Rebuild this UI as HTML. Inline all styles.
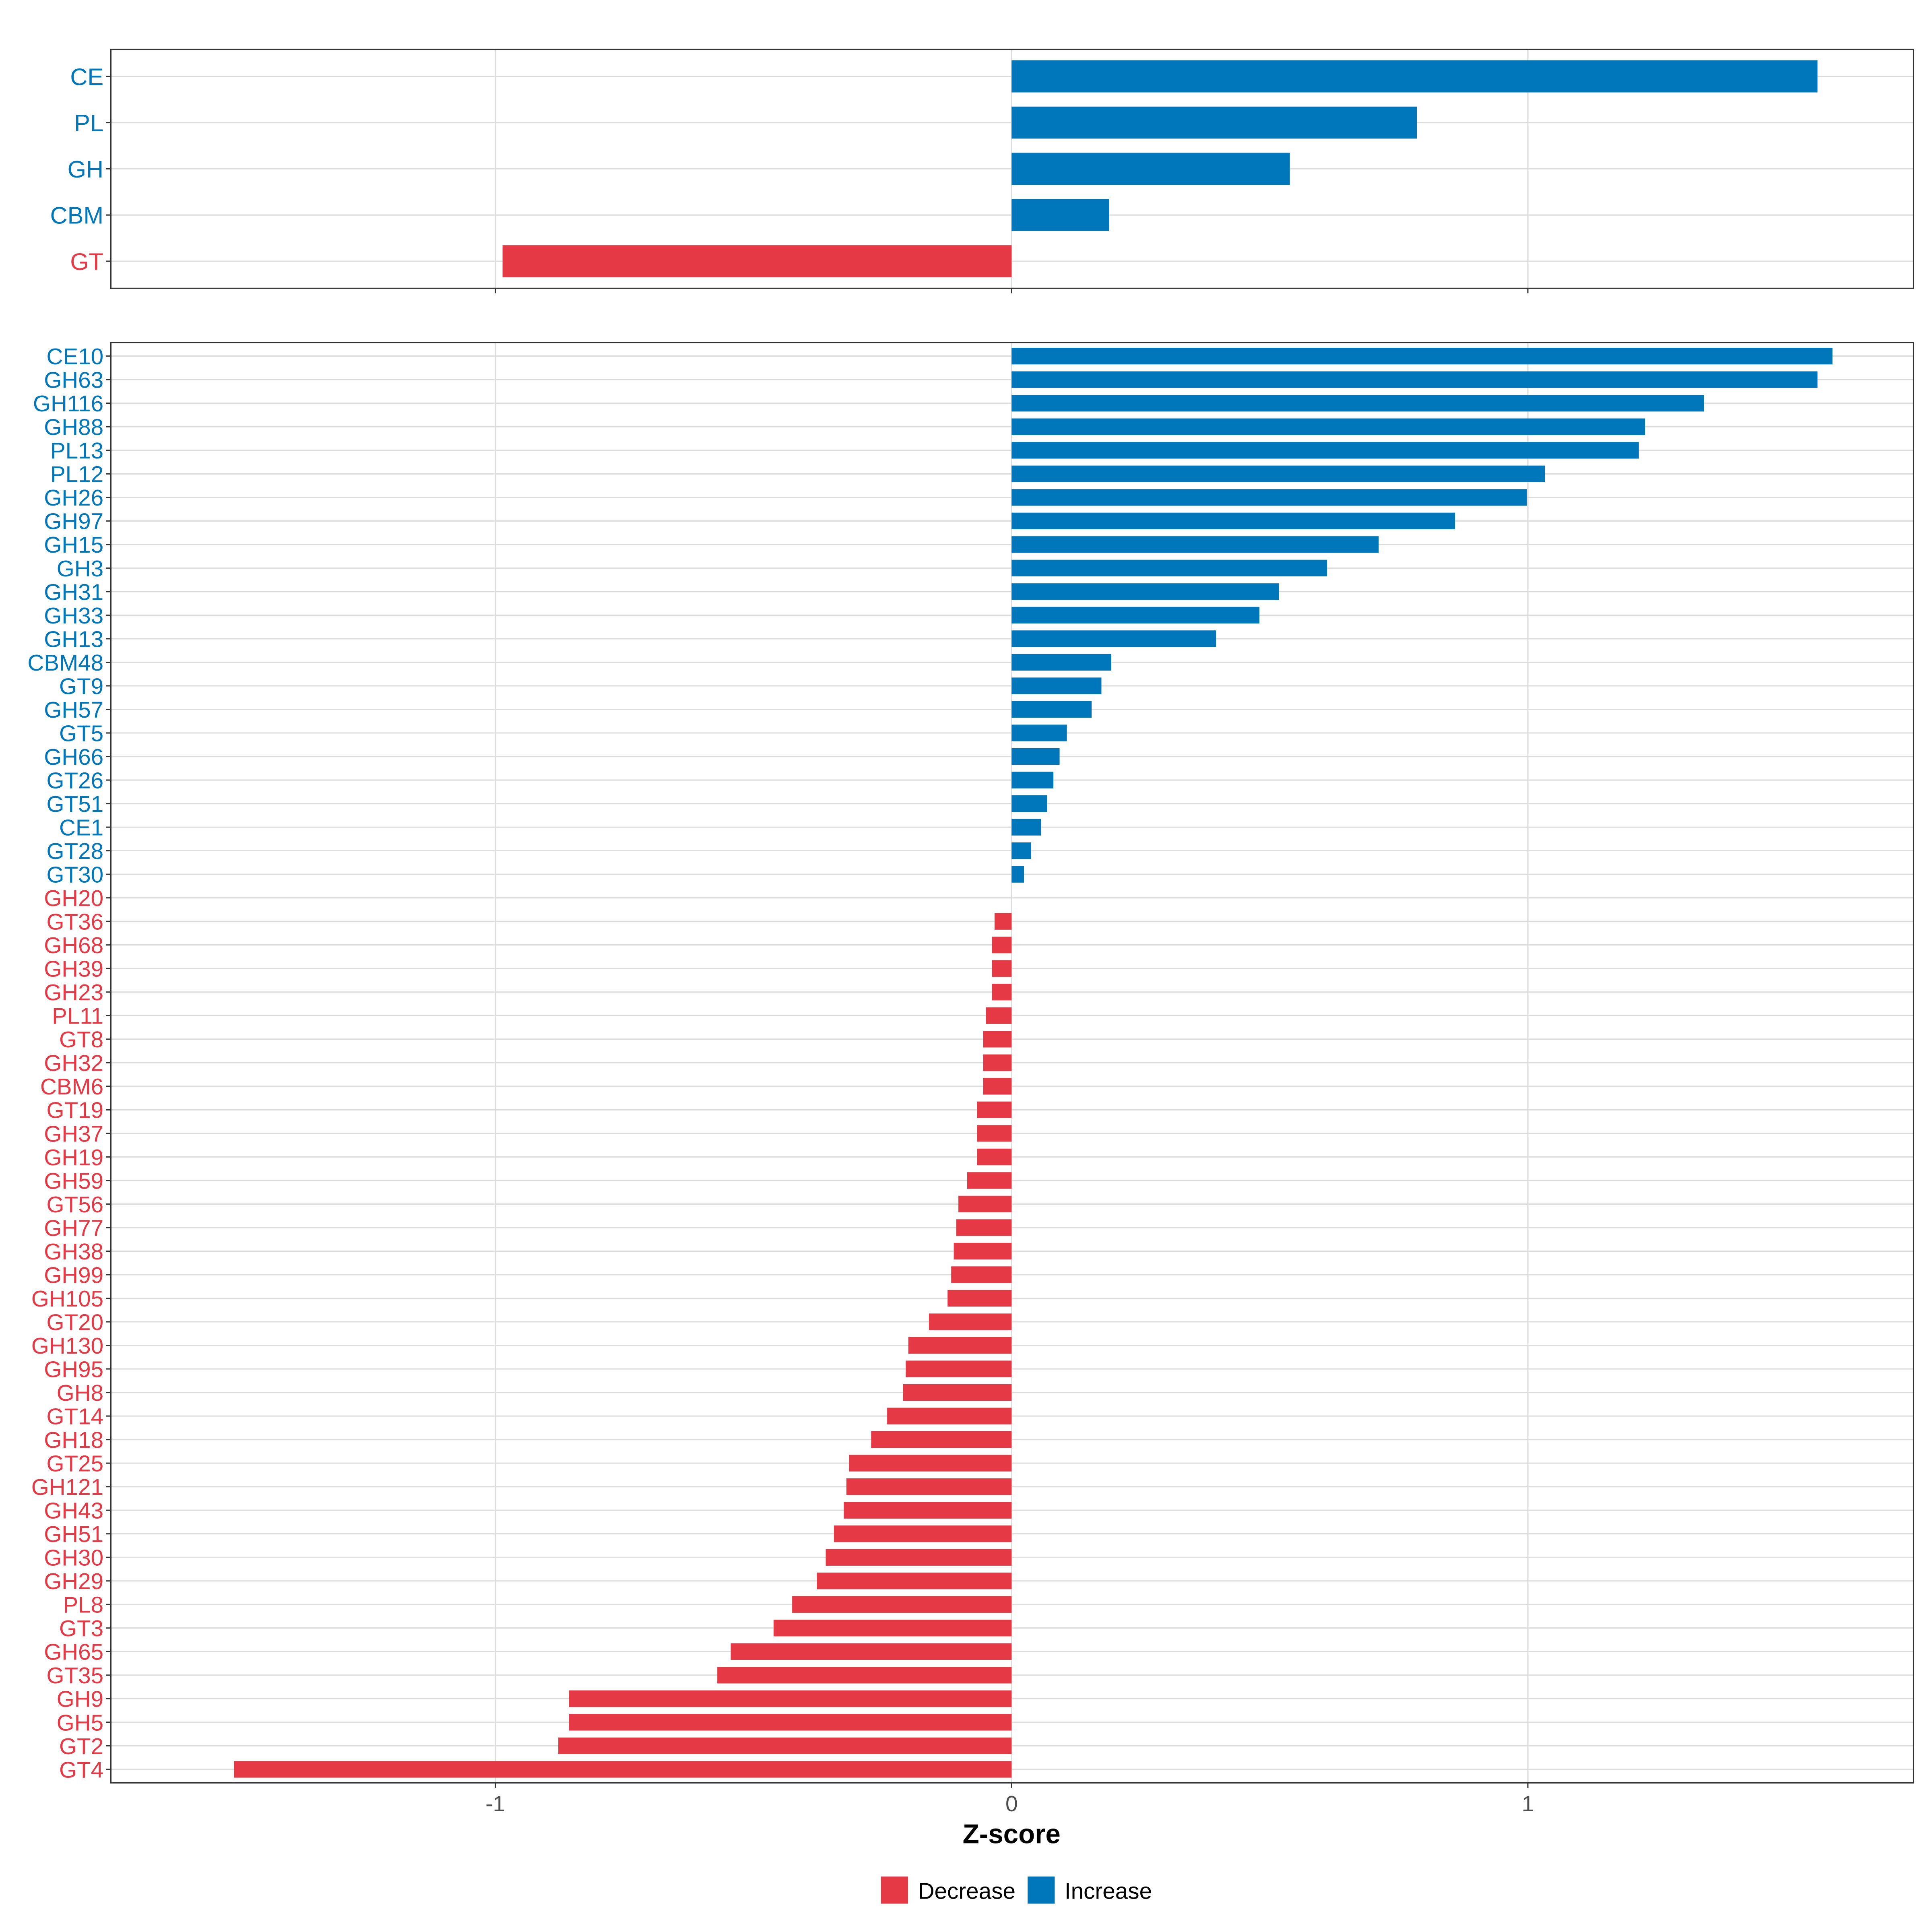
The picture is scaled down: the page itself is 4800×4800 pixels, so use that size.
<!DOCTYPE html>
<html><head><meta charset="utf-8"><style>html,body{margin:0;padding:0;background:#fff}svg{display:block}</style></head>
<body>
<svg id="chart" width="4800" height="4800" viewBox="0 0 1568 1568" xmlns="http://www.w3.org/2000/svg" font-family="Liberation Sans, sans-serif"></svg>
<script>
const topCats=["CE","PL","GH","CBM","GT"];
const topVals=[1.561,0.785,0.539,0.189,-0.986];
const botCats=["CE10","GH63","GH116","GH88","PL13","PL12","GH26","GH97","GH15","GH3","GH31","GH33","GH13","CBM48","GT9","GH57","GT5","GH66","GT26","GT51","CE1","GT28","GT30","GH20","GT36","GH68","GH39","GH23","PL11","GT8","GH32","CBM6","GT19","GH37","GH19","GH59","GT56","GH77","GH38","GH99","GH105","GT20","GH130","GH95","GH8","GT14","GH18","GT25","GH121","GH43","GH51","GH30","GH29","PL8","GT3","GH65","GT35","GH9","GH5","GT2","GT4"];
const botVals=[1.590,1.561,1.341,1.227,1.215,1.033,0.998,0.859,0.711,0.611,0.518,0.480,0.396,0.193,0.174,0.155,0.107,0.093,0.081,0.069,0.057,0.038,0.024,0,-0.033,-0.038,-0.038,-0.038,-0.050,-0.055,-0.055,-0.055,-0.067,-0.067,-0.067,-0.086,-0.103,-0.107,-0.112,-0.117,-0.124,-0.160,-0.200,-0.205,-0.210,-0.241,-0.272,-0.315,-0.320,-0.325,-0.344,-0.360,-0.377,-0.425,-0.461,-0.544,-0.570,-0.857,-0.857,-0.878,-1.506];
const xTicks=[-1,0,1];
const xTickLabels=["-1","0","1"];

const svg=document.getElementById('chart');
const NS="http://www.w3.org/2000/svg";
const BLUE="#0077BB",RED="#E63946",GRID="#DCDCDC";
function X(v){return 821+v*419;}
function mk(tag,attrs,parent){const e=document.createElementNS(NS,tag);for(const k in attrs)e.setAttribute(k,attrs[k]);(parent||svg).appendChild(e);return e;}

function panel(name,y0,y1,cats,vals,yFirst,step,barH,fs){
  const g=mk('g',{});
  
  
  xTicks.forEach(t=>{
    const l=mk('line',{x1:X(t),x2:X(t),y1:y0,y2:y1,stroke:GRID,'stroke-width':1},g);
    
    
  });
  cats.forEach((c,i)=>{
    const y=yFirst+i*step;
    const gl=mk('line',{x1:90,x2:1553,y1:y,y2:y,stroke:GRID,'stroke-width':1},g);
    
    
    const v=vals[i];
    const col=v>0?BLUE:RED;
    const r=mk('rect',{x:Math.min(X(0),X(v)),y:y-barH/2,width:Math.abs(X(v)-X(0)),height:barH,fill:col},g);
    
    
    const tk=mk('line',{x1:86,x2:90,y1:y,y2:y,stroke:'#333','stroke-width':1},g);
    
    
    const t=mk('text',{x:84,y:y+fs*0.36,'text-anchor':'end','font-size':fs,fill:col},g);
    t.textContent=c;
    
    
  });
  const b=mk('rect',{x:90,y:y0,width:1463,height:y1-y0,fill:'none',stroke:'#333','stroke-width':1},g);
  
  
  xTicks.forEach(t=>{
    const l=mk('line',{x1:X(t),x2:X(t),y1:y1,y2:y1+4,stroke:'#333','stroke-width':1},g);
    
    
  });
}
panel('top-panel',40,234,topCats,topVals,62,37.5,26,19.5);
panel('bottom-panel',278,1447,botCats,botVals,289,(1436-289)/60,13.5,18.5);

xTicks.forEach((t,i)=>{
  const tx=mk('text',{x:X(t),y:1470,'text-anchor':'middle','font-size':18,fill:'#4d4d4d'});
  tx.textContent=xTickLabels[i];
  
  
});
const title=mk('text',{x:821,y:1496,'text-anchor':'middle','font-size':22,'font-weight':'bold',fill:'#000'});
title.textContent='Z-score';



const lg=mk('g',{});


[[715,RED,'Decrease'],[834,BLUE,'Increase']].forEach(([x,c,lab])=>{
  const r=mk('rect',{x:x,y:1523,width:22,height:22,fill:c},lg);
  
  
  const t=mk('text',{x:x+30,y:1541,'font-size':18.5,fill:'#000'},lg);
  t.textContent=lab;
  
  
});
</script>
</body></html>
